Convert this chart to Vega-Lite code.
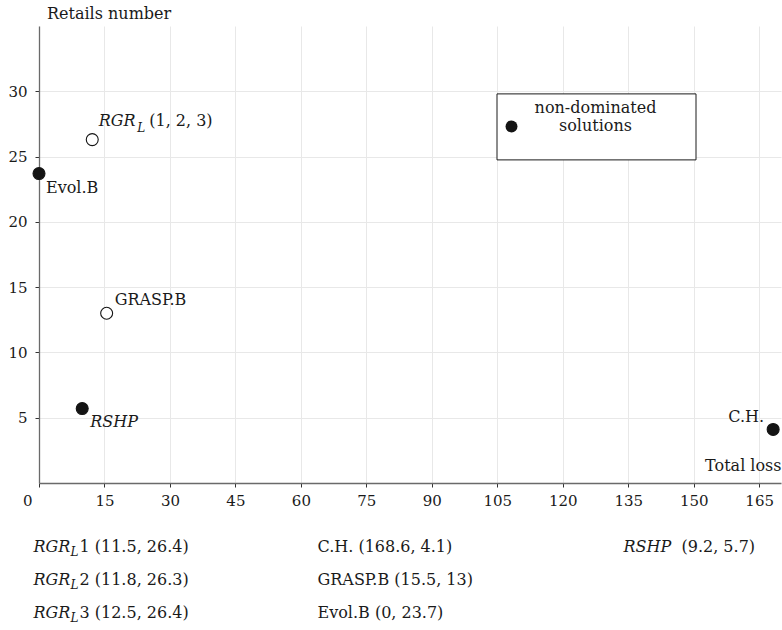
{
  "$schema": "https://vega.github.io/schema/vega-lite/v6.json",
  "padding": {"left": 7, "top": 5, "right": 2, "bottom": 2},
  "background": "white",
  "config": {
    "view": {"stroke": null},
    "font": "DejaVu Serif",
    "text": {"font": "DejaVu Serif", "fontSize": 16, "color": "#1a1a1a", "baseline": "middle", "align": "left"},
    "axis": {
      "labelFont": "DejaVu Serif", "labelFontSize": 15, "labelColor": "#1a1a1a",
      "titleFont": "DejaVu Serif", "titleFontSize": 16, "titleFontWeight": "normal", "titleColor": "#1a1a1a",
      "tickColor": "#333333", "tickSize": 4, "tickWidth": 1,
      "domainColor": "#6a6a6a", "domainWidth": 1.3,
      "gridColor": "#e8e8e8", "gridWidth": 1
    }
  },
  "datasets": {
    "pts": [
      {"name": "RGR_L", "label": "RGR", "loss": 12.2, "retails": 26.3, "status": "dominated"},
      {"name": "GRASP.B", "label": "GRASP.B", "loss": 15.5, "retails": 13, "status": "dominated"},
      {"name": "Evol.B", "label": "Evol.B", "loss": 0, "retails": 23.7, "status": "non-dominated solutions"},
      {"name": "RSHP", "label": "RSHP", "loss": 9.9, "retails": 5.7, "status": "non-dominated solutions"},
      {"name": "C.H.", "label": "C.H.", "loss": 168.2, "retails": 4.1, "status": "non-dominated solutions"}
    ],
    "tbl": [
      {"col": 1, "row": 1, "it": "RGR", "sub": "L", "rest": "1 (11.5, 26.4)"},
      {"col": 1, "row": 2, "it": "RGR", "sub": "L", "rest": "2 (11.8, 26.3)"},
      {"col": 1, "row": 3, "it": "RGR", "sub": "L", "rest": "3 (12.5, 26.4)"},
      {"col": 2, "row": 1, "it": "", "sub": "", "rest": "C.H. (168.6, 4.1)"},
      {"col": 2, "row": 2, "it": "", "sub": "", "rest": "GRASP.B (15.5, 13)"},
      {"col": 2, "row": 3, "it": "", "sub": "", "rest": "Evol.B (0, 23.7)"},
      {"col": 3, "row": 1, "it": "RSHP", "sub": "", "rest": "(9.2, 5.7)"}
    ]
  },
  "vconcat": [
    {
      "width": 742,
      "height": 457,
      "data": {"name": "pts"},
      "encoding": {
        "x": {
          "field": "loss", "type": "quantitative",
          "scale": {"domain": [0, 170], "nice": false, "zero": false},
          "axis": {
            "values": [0, 15, 30, 45, 60, 75, 90, 105, 120, 135, 150, 165],
            "grid": true,
            "title": "Total loss",
            "titleX": 742, "titleY": -18, "titleAlign": "right", "titleBaseline": "middle",
            "labelPadding": 6,
            "labelOffset": {"condition": {"test": "datum.value === 0", "value": -16.5}, "value": 0}
          }
        },
        "y": {
          "field": "retails", "type": "quantitative",
          "scale": {"domain": [0, 35], "nice": false, "zero": false},
          "axis": {
            "values": [5, 10, 15, 20, 25, 30],
            "grid": true,
            "title": "Retails number",
            "titleAngle": 0, "titleX": 7.5, "titleY": -12.6, "titleAlign": "left", "titleBaseline": "middle",
            "labelPadding": 8
          }
        }
      },
      "layer": [
        {
          "mark": {"type": "circle", "size": 143, "stroke": "#141414", "strokeWidth": 1.1, "opacity": 1},
          "encoding": {
            "fill": {
              "field": "status", "type": "nominal",
              "scale": {"domain": ["non-dominated solutions", "dominated"], "range": ["#141414", "#ffffff"]},
              "legend": {
                "values": ["non-dominated solutions", "dominated"],
                "columns": 2, "columnPadding": -3,
                "title": "non-dominated",
                "titleFont": "DejaVu Serif", "titleFontSize": 16, "titleFontWeight": "normal", "titleColor": "#1a1a1a",
                "titleAnchor": "middle", "titleAlign": "center", "titlePadding": 2,
                "orient": "none", "legendX": 457.5, "legendY": 67.4,
                "fillColor": "white", "strokeColor": "#1a1a1a", "padding": 7,
                "symbolType": "circle", "symbolSize": 143, "symbolStrokeWidth": 0,
                "labelExpr": "datum.label === 'dominated' ? '' : ['solutions', '']",
                "labelAlign": "left", "labelOffset": 39.5,
                "labelFont": "DejaVu Serif", "labelFontSize": 16, "labelColor": "#1a1a1a",
                "labelLimit": 400
              }
            }
          }
        },
        {
          "transform": [{"filter": "datum.name === 'RGR_L'"}],
          "mark": {"type": "text", "fontStyle": "italic", "dx": 6.5, "dy": -19},
          "encoding": {"text": {"field": "label"}}
        },
        {
          "transform": [{"filter": "datum.name === 'RGR_L'"}],
          "mark": {"type": "text", "fontStyle": "italic", "fontSize": 12, "dx": 45, "dy": -12, "text": "L"},
          "encoding": {}
        },
        {
          "transform": [{"filter": "datum.name === 'RGR_L'"}],
          "mark": {"type": "text", "dx": 57, "dy": -19, "text": "(1, 2, 3)"},
          "encoding": {}
        },
        {
          "transform": [{"filter": "datum.name === 'GRASP.B'"}],
          "mark": {"type": "text", "dx": 8, "dy": -13},
          "encoding": {"text": {"field": "label"}}
        },
        {
          "transform": [{"filter": "datum.name === 'Evol.B'"}],
          "mark": {"type": "text", "dx": 7, "dy": 14.5},
          "encoding": {"text": {"field": "label"}}
        },
        {
          "transform": [{"filter": "datum.name === 'RSHP'"}],
          "mark": {"type": "text", "fontStyle": "italic", "dx": 8, "dy": 13},
          "encoding": {"text": {"field": "label"}}
        },
        {
          "transform": [{"filter": "datum.name === 'C.H.'"}],
          "mark": {"type": "text", "align": "right", "dx": -9, "dy": -12},
          "encoding": {"text": {"field": "label"}}
        }
      ]
    },
    {
      "width": 742,
      "height": 99,
      "data": {"name": "tbl"},
      "encoding": {
        "x": {"field": "col", "type": "quantitative", "axis": null,
              "scale": {"domain": [1, 2, 3], "range": [-5.5, 278.5, 584.5], "nice": false, "zero": false}},
        "y": {"field": "row", "type": "quantitative", "axis": null,
              "scale": {"domain": [1, 3], "range": [16.5, 82.5], "nice": false, "zero": false}}
      },
      "layer": [
        {
          "transform": [{"filter": "datum.it !== ''"}],
          "mark": {"type": "text", "fontStyle": "italic"},
          "encoding": {"text": {"field": "it"}}
        },
        {
          "transform": [{"filter": "datum.sub !== ''"}],
          "mark": {"type": "text", "fontStyle": "italic", "fontSize": 12, "dx": 37, "dy": 5},
          "encoding": {"text": {"field": "sub"}}
        },
        {
          "transform": [{"filter": "datum.col === 1"}],
          "mark": {"type": "text", "dx": 46},
          "encoding": {"text": {"field": "rest"}}
        },
        {
          "transform": [{"filter": "datum.col === 2"}],
          "mark": {"type": "text"},
          "encoding": {"text": {"field": "rest"}}
        },
        {
          "transform": [{"filter": "datum.col === 3"}],
          "mark": {"type": "text", "dx": 58},
          "encoding": {"text": {"field": "rest"}}
        }
      ]
    }
  ],
  "spacing": 47,
  "bounds": "flush"
}
